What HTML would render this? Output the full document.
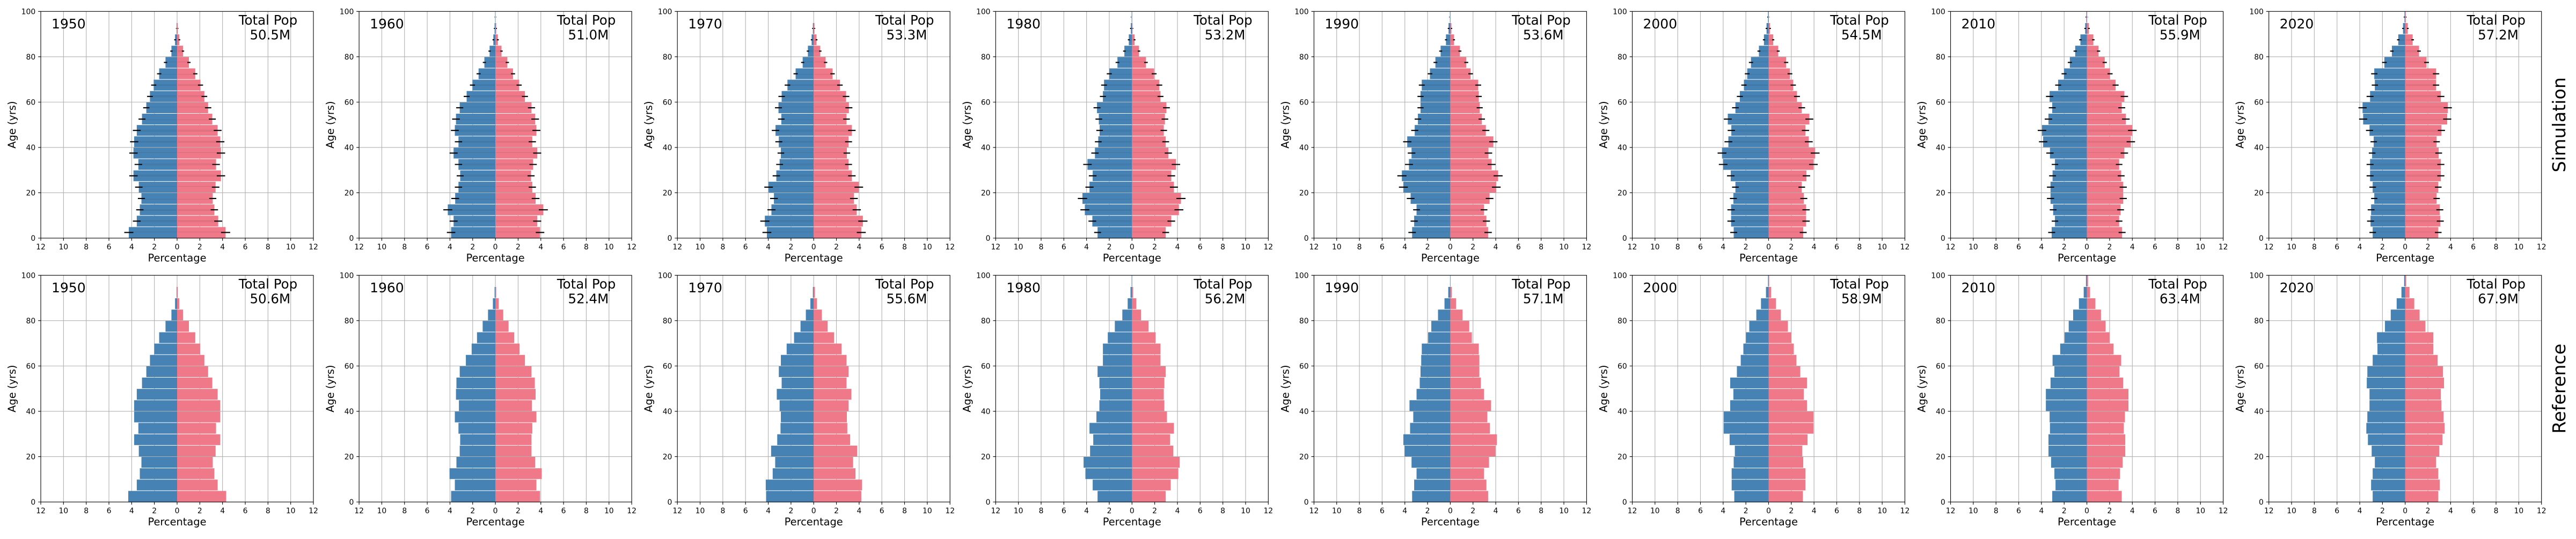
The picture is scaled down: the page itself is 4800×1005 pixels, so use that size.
<!DOCTYPE html>
<html><head><meta charset="utf-8"><style>
body{margin:0;background:#fff}
svg text{font-family:"DejaVu Sans","Liberation Sans",sans-serif;fill:#000}
.xt text{font-size:13.9px;text-anchor:middle}
.yt text{font-size:13.9px;text-anchor:end}
.xl{font-size:19.4px;text-anchor:middle}
.yr{font-size:25px}
.tp{font-size:24.5px;text-anchor:middle}
.rl{font-size:33.3px;text-anchor:middle}
</style></head><body>
<svg xmlns="http://www.w3.org/2000/svg" xmlns:xlink="http://www.w3.org/1999/xlink" width="4800" height="1000" viewBox="0 0 4800 1000">
<rect width="4800" height="1000" fill="#fff"/>
<defs>
<g id="gr" stroke="#b0b0b0" stroke-width="1.1" fill="none"><path d="M42.33 0v422.7M84.67 0v422.7M127 0v422.7M169.33 0v422.7M211.67 0v422.7M254 0v422.7M296.33 0v422.7M338.67 0v422.7M381 0v422.7M423.33 0v422.7M465.67 0v422.7M0 84.54h508M0 169.08h508M0 253.62h508M0 338.16h508"/></g>
<g id="fr" stroke="#000" stroke-width="1.1" fill="none"><rect x="0" y="0" width="508" height="422.7"/><path d="M0 422.7v4.9M42.33 422.7v4.9M84.67 422.7v4.9M127 422.7v4.9M169.33 422.7v4.9M211.67 422.7v4.9M254 422.7v4.9M296.33 422.7v4.9M338.67 422.7v4.9M381 422.7v4.9M423.33 422.7v4.9M465.67 422.7v4.9M508 422.7v4.9M-4.9 0h4.9M-4.9 84.54h4.9M-4.9 169.08h4.9M-4.9 253.62h4.9M-4.9 338.16h4.9M-4.9 422.7h4.9"/></g>
<clipPath id="sl" clipPathUnits="userSpaceOnUse"><path d="M-13 2.25h13v.5h-13zM-13 7.25h13v.5h-13zM-13 12.25h13v.5h-13zM-13 17.25h13v.5h-13zM-13 22.25h13v.5h-13zM-13 27.25h13v.5h-13zM-13 32.25h13v.5h-13zM-13 37.25h13v.5h-13zM-13 42.25h13v.5h-13zM-13 47.25h13v.5h-13zM-13 52.25h13v.5h-13zM-13 57.25h13v.5h-13zM-13 62.25h13v.5h-13zM-13 67.25h13v.5h-13zM-13 72.25h13v.5h-13zM-13 77.25h13v.5h-13zM-13 82.25h13v.5h-13zM-13 87.25h13v.5h-13zM-13 92.25h13v.5h-13zM-13 97.25h13v.5h-13z"/></clipPath>
<clipPath id="sr" clipPathUnits="userSpaceOnUse"><path d="M0 2.25h13v.5h-13zM0 7.25h13v.5h-13zM0 12.25h13v.5h-13zM0 17.25h13v.5h-13zM0 22.25h13v.5h-13zM0 27.25h13v.5h-13zM0 32.25h13v.5h-13zM0 37.25h13v.5h-13zM0 42.25h13v.5h-13zM0 47.25h13v.5h-13zM0 52.25h13v.5h-13zM0 57.25h13v.5h-13zM0 62.25h13v.5h-13zM0 67.25h13v.5h-13zM0 72.25h13v.5h-13zM0 77.25h13v.5h-13zM0 82.25h13v.5h-13zM0 87.25h13v.5h-13zM0 92.25h13v.5h-13zM0 97.25h13v.5h-13z"/></clipPath>

<path id="a0" d="M0 .12h-4.25v4.76H0m0 .24h-3.55v4.76H0m0 .24h-3.28v4.76H0m0 .24h-3.14v4.76H0m0 .24h-3.37v4.76H0m0 .24h-3.84v4.76H0m0 .24h-3.41v4.76H0m0 .24h-3.84v4.76H0m0 .24h-3.78v4.76H0m0 .24h-3.55v4.76H0m0 .24h-3.09v4.76H0m0 .24h-2.71v4.76H0m0 .24h-2.39v4.76H0m0 .24h-2.06v4.76H0m0 .24h-1.58v4.76H0m0 .24h-1.02v4.76H0m0 .24h-.5v4.76H0m0 .24h-.18v4.76H0m0 .24h-.04v4.76H0"/>
<path id="b0" d="M0 .12h4.27v4.76H0m0 .24h3.62v4.76H0m0 .24h3.28v4.76H0m0 .24h3.14v4.76H0m0 .24h3.39v4.76H0m0 .24h3.86v4.76H0m0 .24h3.43v4.76H0m0 .24h3.86v4.76H0m0 .24h3.8v4.76H0m0 .24h3.57v4.76H0m0 .24h3.1v4.76H0m0 .24h2.73v4.76H0m0 .24h2.4v4.76H0m0 .24h2.06v4.76H0m0 .24h1.6v4.76H0m0 .24h1.04v4.76H0m0 .24h.52v4.76H0m0 .24h.2v4.76H0m0 .24h.05v4.76H0"/>
<path id="c0" d="M0 .12h-4.3v4.76H0m0 .24h-3.55v4.76H0m0 .24h-3.28v4.76H0m0 .24h-3.14v4.76H0m0 .24h-3.37v4.76H0m0 .24h-3.78v4.76H0m0 .24h-3.41v4.76H0m0 .24h-3.78v4.76H0m0 .24h-3.78v4.76H0m0 .24h-3.55v4.76H0m0 .24h-3.09v4.76H0m0 .24h-2.71v4.76H0m0 .24h-2.39v4.76H0m0 .24h-2.01v4.76H0m0 .24h-1.58v4.76H0m0 .24h-1.02v4.76H0m0 .24h-.5v4.76H0m0 .24h-.18v4.76H0m0 .24h-.04v4.76H0"/>
<path id="d0" d="M0 .12h4.32v4.76H0m0 .24h3.57v4.76H0m0 .24h3.28v4.76H0m0 .24h3.14v4.76H0m0 .24h3.39v4.76H0m0 .24h3.8v4.76H0m0 .24h3.43v4.76H0m0 .24h3.8v4.76H0m0 .24h3.8v4.76H0m0 .24h3.57v4.76H0m0 .24h3.1v4.76H0m0 .24h2.73v4.76H0m0 .24h2.4v4.76H0m0 .24h2.03v4.76H0m0 .24h1.6v4.76H0m0 .24h1.04v4.76H0m0 .24h.52v4.76H0m0 .24h.2v4.76H0m0 .24h.05v4.76H0"/>

<path id="a1" d="M0 .12h-3.9v4.76H0m0 .24h-3.68v4.76H0m0 .24h-4.19v4.76H0m0 .24h-3.54v4.76H0m0 .24h-3.25v4.76H0m0 .24h-3.1v4.76H0m0 .24h-3.25v4.76H0m0 .24h-3.68v4.76H0m0 .24h-3.25v4.76H0m0 .24h-3.57v4.76H0m0 .24h-3.47v4.76H0m0 .24h-3.14v4.76H0m0 .24h-2.53v4.76H0m0 .24h-2.02v4.76H0m0 .24h-1.48v4.76H0m0 .24h-.97v4.76H0m0 .24h-.51v4.76H0m0 .24h-.18v4.76H0m0 .24h-.07v4.76H0m0 .24h-.02v4.76H0"/>
<path id="b1" d="M0 .12h3.93v4.76H0m0 .24h3.68v4.76H0m0 .24h4.22v4.76H0m0 .24h3.54v4.76H0m0 .24h3.25v4.76H0m0 .24h3.14v4.76H0m0 .24h3.32v4.76H0m0 .24h3.68v4.76H0m0 .24h3.25v4.76H0m0 .24h3.61v4.76H0m0 .24h3.5v4.76H0m0 .24h3.18v4.76H0m0 .24h2.6v4.76H0m0 .24h2.09v4.76H0m0 .24h1.55v4.76H0m0 .24h1.05v4.76H0m0 .24h.54v4.76H0m0 .24h.22v4.76H0m0 .24h.07v4.76H0m0 .24h.02v4.76H0"/>
<path id="c1" d="M0 .12h-3.9v4.76H0m0 .24h-3.57v4.76H0m0 .24h-4.04v4.76H0m0 .24h-3.43v4.76H0m0 .24h-3.14v4.76H0m0 .24h-3.1v4.76H0m0 .24h-3.25v4.76H0m0 .24h-3.57v4.76H0m0 .24h-3.21v4.76H0m0 .24h-3.47v4.76H0m0 .24h-3.43v4.76H0m0 .24h-3.14v4.76H0m0 .24h-2.6v4.76H0m0 .24h-2.09v4.76H0m0 .24h-1.62v4.76H0m0 .24h-1.12v4.76H0m0 .24h-.65v4.76H0m0 .24h-.22v4.76H0m0 .24h-.07v4.76H0"/>
<path id="d1" d="M0 .12h3.93v4.76H0m0 .24h3.61v4.76H0m0 .24h4.08v4.76H0m0 .24h3.5v4.76H0m0 .24h3.18v4.76H0m0 .24h3.18v4.76H0m0 .24h3.25v4.76H0m0 .24h3.61v4.76H0m0 .24h3.21v4.76H0m0 .24h3.54v4.76H0m0 .24h3.47v4.76H0m0 .24h3.18v4.76H0m0 .24h2.6v4.76H0m0 .24h2.13v4.76H0m0 .24h1.66v4.76H0m0 .24h1.16v4.76H0m0 .24h.69v4.76H0m0 .24h.29v4.76H0m0 .24h.07v4.76H0"/>

<path id="a2" d="M0 .12h-4.12v4.76H0m0 .24h-4.3v4.76H0m0 .24h-3.72v4.76H0m0 .24h-3.5v4.76H0m0 .24h-3.97v4.76H0m0 .24h-3.29v4.76H0m0 .24h-3v4.76H0m0 .24h-2.89v4.76H0m0 .24h-3.07v4.76H0m0 .24h-3.36v4.76H0m0 .24h-2.85v4.76H0m0 .24h-3.1v4.76H0m0 .24h-2.82v4.76H0m0 .24h-2.31v4.76H0m0 .24h-1.59v4.76H0m0 .24h-.97v4.76H0m0 .24h-.51v4.76H0m0 .24h-.18v4.76H0m0 .24h-.07v4.76H0"/>
<path id="b2" d="M0 .12h4.19v4.76H0m0 .24h4.33v4.76H0m0 .24h3.79v4.76H0m0 .24h3.54v4.76H0m0 .24h3.97v4.76H0m0 .24h3.36v4.76H0m0 .24h3.07v4.76H0m0 .24h2.92v4.76H0m0 .24h3.07v4.76H0m0 .24h3.36v4.76H0m0 .24h2.89v4.76H0m0 .24h3.1v4.76H0m0 .24h2.85v4.76H0m0 .24h2.31v4.76H0m0 .24h1.66v4.76H0m0 .24h1.05v4.76H0m0 .24h.58v4.76H0m0 .24h.25v4.76H0m0 .24h.07v4.76H0"/>
<path id="c2" d="M0 .12h-4.19v4.76H0m0 .24h-4.22v4.76H0m0 .24h-3.61v4.76H0m0 .24h-3.39v4.76H0m0 .24h-3.75v4.76H0m0 .24h-3.21v4.76H0m0 .24h-2.92v4.76H0m0 .24h-2.89v4.76H0m0 .24h-3v4.76H0m0 .24h-3.25v4.76H0m0 .24h-2.82v4.76H0m0 .24h-3.07v4.76H0m0 .24h-2.89v4.76H0m0 .24h-2.38v4.76H0m0 .24h-1.73v4.76H0m0 .24h-1.16v4.76H0m0 .24h-.69v4.76H0m0 .24h-.29v4.76H0m0 .24h-.07v4.76H0"/>
<path id="d2" d="M0 .12h4.19v4.76H0m0 .24h4.26v4.76H0m0 .24h3.68v4.76H0m0 .24h3.47v4.76H0m0 .24h3.83v4.76H0m0 .24h3.21v4.76H0m0 .24h2.96v4.76H0m0 .24h2.92v4.76H0m0 .24h3.07v4.76H0m0 .24h3.32v4.76H0m0 .24h2.89v4.76H0m0 .24h3.07v4.76H0m0 .24h2.89v4.76H0m0 .24h2.46v4.76H0m0 .24h1.8v4.76H0m0 .24h1.23v4.76H0m0 .24h.72v4.76H0m0 .24h.29v4.76H0m0 .24h.11v4.76H0"/>

<path id="a3" d="M0 .12h-3.03v4.76H0m0 .24h-3.49v4.76H0m0 .24h-4.15v4.76H0m0 .24h-4.36v4.76H0m0 .24h-3.74v4.76H0m0 .24h-3.46v4.76H0m0 .24h-3.92v4.76H0m0 .24h-3.26v4.76H0m0 .24h-2.97v4.76H0m0 .24h-2.85v4.76H0m0 .24h-2.92v4.76H0m0 .24h-3.08v4.76H0m0 .24h-2.56v4.76H0m0 .24h-2.46v4.76H0m0 .24h-2v4.76H0m0 .24h-1.28v4.76H0m0 .24h-.67v4.76H0m0 .24h-.28v4.76H0m0 .24h-.1v4.76H0m0 .24h-.03v4.76H0"/>
<path id="b3" d="M0 .12h2.97v4.76H0m0 .24h3.46v4.76H0m0 .24h4.13v4.76H0m0 .24h4.31v4.76H0m0 .24h3.69v4.76H0m0 .24h3.46v4.76H0m0 .24h3.87v4.76H0m0 .24h3.2v4.76H0m0 .24h2.97v4.76H0m0 .24h2.8v4.76H0m0 .24h2.9v4.76H0m0 .24h3.03v4.76H0m0 .24h2.51v4.76H0m0 .24h2.41v4.76H0m0 .24h1.95v4.76H0m0 .24h1.23v4.76H0m0 .24h.62v4.76H0m0 .24h.23v4.76H0m0 .24h.05v4.76H0"/>
<path id="c3" d="M0 .12h-3.03v4.76H0m0 .24h-3.46v4.76H0m0 .24h-4.1v4.76H0m0 .24h-4.26v4.76H0m0 .24h-3.69v4.76H0m0 .24h-3.41v4.76H0m0 .24h-3.74v4.76H0m0 .24h-3.13v4.76H0m0 .24h-2.87v4.76H0m0 .24h-2.8v4.76H0m0 .24h-2.87v4.76H0m0 .24h-3.03v4.76H0m0 .24h-2.56v4.76H0m0 .24h-2.56v4.76H0m0 .24h-2.13v4.76H0m0 .24h-1.51v4.76H0m0 .24h-.85v4.76H0m0 .24h-.38v4.76H0m0 .24h-.13v4.76H0m0 .24h-.03v4.76H0"/>
<path id="d3" d="M0 .12h2.97v4.76H0m0 .24h3.41v4.76H0m0 .24h4.08v4.76H0m0 .24h4.2v4.76H0m0 .24h3.64v4.76H0m0 .24h3.36v4.76H0m0 .24h3.69v4.76H0m0 .24h3.08v4.76H0m0 .24h2.85v4.76H0m0 .24h2.8v4.76H0m0 .24h2.85v4.76H0m0 .24h2.97v4.76H0m0 .24h2.51v4.76H0m0 .24h2.51v4.76H0m0 .24h2.08v4.76H0m0 .24h1.46v4.76H0m0 .24h.8v4.76H0m0 .24h.38v4.76H0m0 .24h.1v4.76H0"/>

<path id="a4" d="M0 .12h-3.36v4.76H0m0 .24h-3.18v4.76H0m0 .24h-2.97v4.76H0m0 .24h-3.49v4.76H0m0 .24h-4.13v4.76H0m0 .24h-4.26v4.76H0m0 .24h-3.64v4.76H0m0 .24h-3.41v4.76H0m0 .24h-3.79v4.76H0m0 .24h-3.13v4.76H0m0 .24h-2.85v4.76H0m0 .24h-2.62v4.76H0m0 .24h-2.62v4.76H0m0 .24h-2.51v4.76H0m0 .24h-1.79v4.76H0m0 .24h-1.31v4.76H0m0 .24h-.85v4.76H0m0 .24h-.38v4.76H0m0 .24h-.15v4.76H0m0 .24h-.03v4.76H0"/>
<path id="b4" d="M0 .12h3.33v4.76H0m0 .24h3.18v4.76H0m0 .24h2.97v4.76H0m0 .24h3.46v4.76H0m0 .24h4.05v4.76H0m0 .24h4.21v4.76H0m0 .24h3.64v4.76H0m0 .24h3.36v4.76H0m0 .24h3.79v4.76H0m0 .24h3.13v4.76H0m0 .24h2.77v4.76H0m0 .24h2.59v4.76H0m0 .24h2.51v4.76H0m0 .24h2.46v4.76H0m0 .24h1.79v4.76H0m0 .24h1.41v4.76H0m0 .24h.85v4.76H0m0 .24h.33v4.76H0m0 .24h.1v4.76H0"/>
<path id="c4" d="M0 .12h-3.36v4.76H0m0 .24h-3.18v4.76H0m0 .24h-2.97v4.76H0m0 .24h-3.41v4.76H0m0 .24h-4.03v4.76H0m0 .24h-4.13v4.76H0m0 .24h-3.54v4.76H0m0 .24h-3.26v4.76H0m0 .24h-3.59v4.76H0m0 .24h-2.97v4.76H0m0 .24h-2.69v4.76H0m0 .24h-2.62v4.76H0m0 .24h-2.56v4.76H0m0 .24h-2.51v4.76H0m0 .24h-1.95v4.76H0m0 .24h-1.67v4.76H0m0 .24h-1.08v4.76H0m0 .24h-.51v4.76H0m0 .24h-.18v4.76H0m0 .24h-.02v4.76H0"/>
<path id="d4" d="M0 .12h3.33v4.76H0m0 .24h3.18v4.76H0m0 .24h2.97v4.76H0m0 .24h3.41v4.76H0m0 .24h3.97v4.76H0m0 .24h4.1v4.76H0m0 .24h3.49v4.76H0m0 .24h3.26v4.76H0m0 .24h3.59v4.76H0m0 .24h2.97v4.76H0m0 .24h2.69v4.76H0m0 .24h2.56v4.76H0m0 .24h2.56v4.76H0m0 .24h2.51v4.76H0m0 .24h1.9v4.76H0m0 .24h1.67v4.76H0m0 .24h1.08v4.76H0m0 .24h.51v4.76H0m0 .24h.13v4.76H0"/>

<path id="a5" d="M0 .12h-3.07v4.76H0m0 .24h-3.3v4.76H0m0 .24h-3.3v4.76H0m0 .24h-3.1v4.76H0m0 .24h-2.92v4.76H0m0 .24h-3.33v4.76H0m0 .24h-4v4.76H0m0 .24h-4.1v4.76H0m0 .24h-3.54v4.76H0m0 .24h-3.28v4.76H0m0 .24h-3.59v4.76H0m0 .24h-2.92v4.76H0m0 .24h-2.53v4.76H0m0 .24h-2.17v4.76H0m0 .24h-1.88v4.76H0m0 .24h-1.55v4.76H0m0 .24h-.85v4.76H0m0 .24h-.41v4.76H0m0 .24h-.18v4.76H0m0 .24h-.05v4.76H0"/>
<path id="b5" d="M0 .12h3.05v4.76H0m0 .24h3.3v4.76H0m0 .24h3.3v4.76H0m0 .24h3.1v4.76H0m0 .24h2.92v4.76H0m0 .24h3.33v4.76H0m0 .24h3.95v4.76H0m0 .24h4.1v4.76H0m0 .24h3.54v4.76H0m0 .24h3.25v4.76H0m0 .24h3.59v4.76H0m0 .24h2.92v4.76H0m0 .24h2.5v4.76H0m0 .24h2.17v4.76H0m0 .24h1.88v4.76H0m0 .24h1.55v4.76H0m0 .24h.85v4.76H0m0 .24h.41v4.76H0m0 .24h.13v4.76H0m0 .24h.02v4.76H0"/>
<path id="c5" d="M0 .12h-3.02v4.76H0m0 .24h-3.25v4.76H0m0 .24h-3.25v4.76H0m0 .24h-3.07v4.76H0m0 .24h-2.97v4.76H0m0 .24h-3.43v4.76H0m0 .24h-3.95v4.76H0m0 .24h-3.95v4.76H0m0 .24h-3.38v4.76H0m0 .24h-3.1v4.76H0m0 .24h-3.38v4.76H0m0 .24h-2.79v4.76H0m0 .24h-2.45v4.76H0m0 .24h-2.22v4.76H0m0 .24h-1.99v4.76H0m0 .24h-1.7v4.76H0m0 .24h-1.08v4.76H0m0 .24h-.67v4.76H0m0 .24h-.23v4.76H0m0 .24h-.05v4.76H0"/>
<path id="d5" d="M0 .12h3.02v4.76H0m0 .24h3.25v4.76H0m0 .24h3.25v4.76H0m0 .24h3.05v4.76H0m0 .24h2.97v4.76H0m0 .24h3.43v4.76H0m0 .24h3.95v4.76H0m0 .24h3.95v4.76H0m0 .24h3.38v4.76H0m0 .24h3.1v4.76H0m0 .24h3.38v4.76H0m0 .24h2.79v4.76H0m0 .24h2.45v4.76H0m0 .24h2.22v4.76H0m0 .24h1.99v4.76H0m0 .24h1.7v4.76H0m0 .24h1.08v4.76H0m0 .24h.65v4.76H0m0 .24h.23v4.76H0m0 .24h.05v4.76H0"/>

<path id="a6" d="M0 .12h-3.1v4.76H0m0 .24h-2.81v4.76H0m0 .24h-2.97v4.76H0m0 .24h-3.2v4.76H0m0 .24h-3.2v4.76H0m0 .24h-3.02v4.76H0m0 .24h-2.81v4.76H0m0 .24h-3.25v4.76H0m0 .24h-3.85v4.76H0m0 .24h-3.95v4.76H0m0 .24h-3.38v4.76H0m0 .24h-3.05v4.76H0m0 .24h-3.28v4.76H0m0 .24h-2.53v4.76H0m0 .24h-2.01v4.76H0m0 .24h-1.5v4.76H0m0 .24h-1.03v4.76H0m0 .24h-.57v4.76H0m0 .24h-.15v4.76H0m0 .24h-.05v4.76H0"/>
<path id="b6" d="M0 .12h3.1v4.76H0m0 .24h2.84v4.76H0m0 .24h2.97v4.76H0m0 .24h3.2v4.76H0m0 .24h3.2v4.76H0m0 .24h3.02v4.76H0m0 .24h2.84v4.76H0m0 .24h3.3v4.76H0m0 .24h3.87v4.76H0m0 .24h4v4.76H0m0 .24h3.43v4.76H0m0 .24h3.07v4.76H0m0 .24h3.3v4.76H0m0 .24h2.53v4.76H0m0 .24h2.04v4.76H0m0 .24h1.57v4.76H0m0 .24h1.03v4.76H0m0 .24h.57v4.76H0m0 .24h.18v4.76H0m0 .24h.02v4.76H0"/>
<path id="c6" d="M0 .12h-3.05v4.76H0m0 .24h-2.76v4.76H0m0 .24h-2.86v4.76H0m0 .24h-3.15v4.76H0m0 .24h-3.38v4.76H0m0 .24h-3.38v4.76H0m0 .24h-3.25v4.76H0m0 .24h-3.28v4.76H0m0 .24h-3.61v4.76H0m0 .24h-3.61v4.76H0m0 .24h-3.2v4.76H0m0 .24h-2.86v4.76H0m0 .24h-3.02v4.76H0m0 .24h-2.35v4.76H0m0 .24h-1.96v4.76H0m0 .24h-1.6v4.76H0m0 .24h-1.21v4.76H0m0 .24h-.7v4.76H0m0 .24h-.28v4.76H0m0 .24h-.08v4.76H0"/>
<path id="d6" d="M0 .12h3.07v4.76H0m0 .24h2.79v4.76H0m0 .24h2.92v4.76H0m0 .24h3.15v4.76H0m0 .24h3.38v4.76H0m0 .24h3.38v4.76H0m0 .24h3.25v4.76H0m0 .24h3.35v4.76H0m0 .24h3.66v4.76H0m0 .24h3.66v4.76H0m0 .24h3.2v4.76H0m0 .24h2.87v4.76H0m0 .24h3.02v4.76H0m0 .24h2.35v4.76H0m0 .24h1.99v4.76H0m0 .24h1.65v4.76H0m0 .24h1.24v4.76H0m0 .24h.75v4.76H0m0 .24h.28v4.76H0m0 .24h.1v4.76H0"/>

<path id="a7" d="M0 .12h-2.86v4.76H0m0 .24h-3.05v4.76H0m0 .24h-3v4.76H0m0 .24h-2.72v4.76H0m0 .24h-2.86v4.76H0m0 .24h-3.09v4.76H0m0 .24h-3.09v4.76H0m0 .24h-2.91v4.76H0m0 .24h-2.77v4.76H0m0 .24h-3.14v4.76H0m0 .24h-3.7v4.76H0m0 .24h-3.75v4.76H0m0 .24h-3.09v4.76H0m0 .24h-2.67v4.76H0m0 .24h-2.72v4.76H0m0 .24h-1.83v4.76H0m0 .24h-1.17v4.76H0m0 .24h-.61v4.76H0m0 .24h-.19v4.76H0m0 .24h-.06v4.76H0"/>
<path id="b7" d="M0 .12h2.91v4.76H0m0 .24h3.09v4.76H0m0 .24h3.05v4.76H0m0 .24h2.77v4.76H0m0 .24h2.91v4.76H0m0 .24h3.14v4.76H0m0 .24h3.14v4.76H0m0 .24h2.95v4.76H0m0 .24h2.77v4.76H0m0 .24h3.19v4.76H0m0 .24h3.7v4.76H0m0 .24h3.75v4.76H0m0 .24h3.14v4.76H0m0 .24h2.72v4.76H0m0 .24h2.72v4.76H0m0 .24h1.88v4.76H0m0 .24h1.22v4.76H0m0 .24h.66v4.76H0m0 .24h.23v4.76H0m0 .24h.05v4.76H0"/>
<path id="c7" d="M0 .12h-2.86v4.76H0m0 .24h-3v4.76H0m0 .24h-2.86v4.76H0m0 .24h-2.67v4.76H0m0 .24h-2.95v4.76H0m0 .24h-3.28v4.76H0m0 .24h-3.42v4.76H0m0 .24h-3.33v4.76H0m0 .24h-3.14v4.76H0m0 .24h-3.14v4.76H0m0 .24h-3.38v4.76H0m0 .24h-3.33v4.76H0m0 .24h-2.86v4.76H0m0 .24h-2.44v4.76H0m0 .24h-2.48v4.76H0m0 .24h-1.78v4.76H0m0 .24h-1.27v4.76H0m0 .24h-.75v4.76H0m0 .24h-.33v4.76H0m0 .24h-.09v4.76H0"/>
<path id="d7" d="M0 .12h2.91v4.76H0m0 .24h3.05v4.76H0m0 .24h2.91v4.76H0m0 .24h2.72v4.76H0m0 .24h3v4.76H0m0 .24h3.28v4.76H0m0 .24h3.47v4.76H0m0 .24h3.38v4.76H0m0 .24h3.19v4.76H0m0 .24h3.14v4.76H0m0 .24h3.42v4.76H0m0 .24h3.33v4.76H0m0 .24h2.86v4.76H0m0 .24h2.48v4.76H0m0 .24h2.48v4.76H0m0 .24h1.78v4.76H0m0 .24h1.27v4.76H0m0 .24h.8v4.76H0m0 .24h.38v4.76H0m0 .24h.09v4.76H0"/>
</defs>

<!-- grids -->
<use href="#gr" x="76" y="21.3"/><use href="#gr" x="669.1" y="21.3"/><use href="#gr" x="1262.2" y="21.3"/><use href="#gr" x="1855.3" y="21.3"/><use href="#gr" x="2448.4" y="21.3"/><use href="#gr" x="3041.5" y="21.3"/><use href="#gr" x="3634.6" y="21.3"/><use href="#gr" x="4227.7" y="21.3"/>
<use href="#gr" x="76" y="513.3"/><use href="#gr" x="669.1" y="513.3"/><use href="#gr" x="1262.2" y="513.3"/><use href="#gr" x="1855.3" y="513.3"/><use href="#gr" x="2448.4" y="513.3"/><use href="#gr" x="3041.5" y="513.3"/><use href="#gr" x="3634.6" y="513.3"/><use href="#gr" x="4227.7" y="513.3"/>

<!-- simulation row bars + error bars -->
<g transform="translate(330 444) scale(21.1667 -4.227)"><use href="#a0" fill="#4682b4"/><use href="#b0" fill="#ef7889"/><g clip-path="url(#sl)"><use href="#a0" transform="translate(-.06 0) scale(1.08 1)"/><use href="#a0" fill="#4682b4" transform="translate(.06 0) scale(.92 1)"/></g><g clip-path="url(#sr)"><use href="#b0" transform="translate(.06 0) scale(1.08 1)"/><use href="#b0" fill="#ef7889" transform="translate(-.06 0) scale(.92 1)"/></g></g>
<g transform="translate(923.1 444) scale(21.1667 -4.227)"><use href="#a1" fill="#4682b4"/><use href="#b1" fill="#ef7889"/><g clip-path="url(#sl)"><use href="#a1" transform="translate(-.06 0) scale(1.08 1)"/><use href="#a1" fill="#4682b4" transform="translate(.06 0) scale(.92 1)"/></g><g clip-path="url(#sr)"><use href="#b1" transform="translate(.06 0) scale(1.08 1)"/><use href="#b1" fill="#ef7889" transform="translate(-.06 0) scale(.92 1)"/></g></g>
<g transform="translate(1516.2 444) scale(21.1667 -4.227)"><use href="#a2" fill="#4682b4"/><use href="#b2" fill="#ef7889"/><g clip-path="url(#sl)"><use href="#a2" transform="translate(-.06 0) scale(1.08 1)"/><use href="#a2" fill="#4682b4" transform="translate(.06 0) scale(.92 1)"/></g><g clip-path="url(#sr)"><use href="#b2" transform="translate(.06 0) scale(1.08 1)"/><use href="#b2" fill="#ef7889" transform="translate(-.06 0) scale(.92 1)"/></g></g>
<g transform="translate(2109.3 444) scale(21.1667 -4.227)"><use href="#a3" fill="#4682b4"/><use href="#b3" fill="#ef7889"/><g clip-path="url(#sl)"><use href="#a3" transform="translate(-.06 0) scale(1.08 1)"/><use href="#a3" fill="#4682b4" transform="translate(.06 0) scale(.92 1)"/></g><g clip-path="url(#sr)"><use href="#b3" transform="translate(.06 0) scale(1.08 1)"/><use href="#b3" fill="#ef7889" transform="translate(-.06 0) scale(.92 1)"/></g></g>
<g transform="translate(2702.4 444) scale(21.1667 -4.227)"><use href="#a4" fill="#4682b4"/><use href="#b4" fill="#ef7889"/><g clip-path="url(#sl)"><use href="#a4" transform="translate(-.06 0) scale(1.08 1)"/><use href="#a4" fill="#4682b4" transform="translate(.06 0) scale(.92 1)"/></g><g clip-path="url(#sr)"><use href="#b4" transform="translate(.06 0) scale(1.08 1)"/><use href="#b4" fill="#ef7889" transform="translate(-.06 0) scale(.92 1)"/></g></g>
<g transform="translate(3295.5 444) scale(21.1667 -4.227)"><use href="#a5" fill="#4682b4"/><use href="#b5" fill="#ef7889"/><g clip-path="url(#sl)"><use href="#a5" transform="translate(-.06 0) scale(1.08 1)"/><use href="#a5" fill="#4682b4" transform="translate(.06 0) scale(.92 1)"/></g><g clip-path="url(#sr)"><use href="#b5" transform="translate(.06 0) scale(1.08 1)"/><use href="#b5" fill="#ef7889" transform="translate(-.06 0) scale(.92 1)"/></g></g>
<g transform="translate(3888.6 444) scale(21.1667 -4.227)"><use href="#a6" fill="#4682b4"/><use href="#b6" fill="#ef7889"/><g clip-path="url(#sl)"><use href="#a6" transform="translate(-.06 0) scale(1.08 1)"/><use href="#a6" fill="#4682b4" transform="translate(.06 0) scale(.92 1)"/></g><g clip-path="url(#sr)"><use href="#b6" transform="translate(.06 0) scale(1.08 1)"/><use href="#b6" fill="#ef7889" transform="translate(-.06 0) scale(.92 1)"/></g></g>
<g transform="translate(4481.7 444) scale(21.1667 -4.227)"><use href="#a7" fill="#4682b4"/><use href="#b7" fill="#ef7889"/><g clip-path="url(#sl)"><use href="#a7" transform="translate(-.06 0) scale(1.08 1)"/><use href="#a7" fill="#4682b4" transform="translate(.06 0) scale(.92 1)"/></g><g clip-path="url(#sr)"><use href="#b7" transform="translate(.06 0) scale(1.08 1)"/><use href="#b7" fill="#ef7889" transform="translate(-.06 0) scale(.92 1)"/></g></g>

<!-- reference row bars -->
<g transform="translate(330 936) scale(21.1667 -4.227)"><use href="#c0" fill="#4682b4"/><use href="#d0" fill="#ef7889"/></g>
<g transform="translate(923.1 936) scale(21.1667 -4.227)"><use href="#c1" fill="#4682b4"/><use href="#d1" fill="#ef7889"/></g>
<g transform="translate(1516.2 936) scale(21.1667 -4.227)"><use href="#c2" fill="#4682b4"/><use href="#d2" fill="#ef7889"/></g>
<g transform="translate(2109.3 936) scale(21.1667 -4.227)"><use href="#c3" fill="#4682b4"/><use href="#d3" fill="#ef7889"/></g>
<g transform="translate(2702.4 936) scale(21.1667 -4.227)"><use href="#c4" fill="#4682b4"/><use href="#d4" fill="#ef7889"/></g>
<g transform="translate(3295.5 936) scale(21.1667 -4.227)"><use href="#c5" fill="#4682b4"/><use href="#d5" fill="#ef7889"/></g>
<g transform="translate(3888.6 936) scale(21.1667 -4.227)"><use href="#c6" fill="#4682b4"/><use href="#d6" fill="#ef7889"/></g>
<g transform="translate(4481.7 936) scale(21.1667 -4.227)"><use href="#c7" fill="#4682b4"/><use href="#d7" fill="#ef7889"/></g>

<!-- frames -->
<use href="#fr" x="76" y="21.3"/><use href="#fr" x="669.1" y="21.3"/><use href="#fr" x="1262.2" y="21.3"/><use href="#fr" x="1855.3" y="21.3"/><use href="#fr" x="2448.4" y="21.3"/><use href="#fr" x="3041.5" y="21.3"/><use href="#fr" x="3634.6" y="21.3"/><use href="#fr" x="4227.7" y="21.3"/>
<use href="#fr" x="76" y="513.3"/><use href="#fr" x="669.1" y="513.3"/><use href="#fr" x="1262.2" y="513.3"/><use href="#fr" x="1855.3" y="513.3"/><use href="#fr" x="2448.4" y="513.3"/><use href="#fr" x="3041.5" y="513.3"/><use href="#fr" x="3634.6" y="513.3"/><use href="#fr" x="4227.7" y="513.3"/>

<!-- x tick labels -->
<g class="xt" transform="translate(76 465)"><text>12</text><text x="42.3">10</text><text x="84.7">8</text><text x="127">6</text><text x="169.3">4</text><text x="211.7">2</text><text x="254">0</text><text x="296.3">2</text><text x="338.7">4</text><text x="381">6</text><text x="423.3">8</text><text x="465.7">10</text><text x="508">12</text></g>
<g class="xt" transform="translate(669.1 465)"><text>12</text><text x="42.3">10</text><text x="84.7">8</text><text x="127">6</text><text x="169.3">4</text><text x="211.7">2</text><text x="254">0</text><text x="296.3">2</text><text x="338.7">4</text><text x="381">6</text><text x="423.3">8</text><text x="465.7">10</text><text x="508">12</text></g>
<g class="xt" transform="translate(1262.2 465)"><text>12</text><text x="42.3">10</text><text x="84.7">8</text><text x="127">6</text><text x="169.3">4</text><text x="211.7">2</text><text x="254">0</text><text x="296.3">2</text><text x="338.7">4</text><text x="381">6</text><text x="423.3">8</text><text x="465.7">10</text><text x="508">12</text></g>
<g class="xt" transform="translate(1855.3 465)"><text>12</text><text x="42.3">10</text><text x="84.7">8</text><text x="127">6</text><text x="169.3">4</text><text x="211.7">2</text><text x="254">0</text><text x="296.3">2</text><text x="338.7">4</text><text x="381">6</text><text x="423.3">8</text><text x="465.7">10</text><text x="508">12</text></g>
<g class="xt" transform="translate(2448.4 465)"><text>12</text><text x="42.3">10</text><text x="84.7">8</text><text x="127">6</text><text x="169.3">4</text><text x="211.7">2</text><text x="254">0</text><text x="296.3">2</text><text x="338.7">4</text><text x="381">6</text><text x="423.3">8</text><text x="465.7">10</text><text x="508">12</text></g>
<g class="xt" transform="translate(3041.5 465)"><text>12</text><text x="42.3">10</text><text x="84.7">8</text><text x="127">6</text><text x="169.3">4</text><text x="211.7">2</text><text x="254">0</text><text x="296.3">2</text><text x="338.7">4</text><text x="381">6</text><text x="423.3">8</text><text x="465.7">10</text><text x="508">12</text></g>
<g class="xt" transform="translate(3634.6 465)"><text>12</text><text x="42.3">10</text><text x="84.7">8</text><text x="127">6</text><text x="169.3">4</text><text x="211.7">2</text><text x="254">0</text><text x="296.3">2</text><text x="338.7">4</text><text x="381">6</text><text x="423.3">8</text><text x="465.7">10</text><text x="508">12</text></g>
<g class="xt" transform="translate(4227.7 465)"><text>12</text><text x="42.3">10</text><text x="84.7">8</text><text x="127">6</text><text x="169.3">4</text><text x="211.7">2</text><text x="254">0</text><text x="296.3">2</text><text x="338.7">4</text><text x="381">6</text><text x="423.3">8</text><text x="465.7">10</text><text x="508">12</text></g>
<g class="xt" transform="translate(76 957)"><text>12</text><text x="42.3">10</text><text x="84.7">8</text><text x="127">6</text><text x="169.3">4</text><text x="211.7">2</text><text x="254">0</text><text x="296.3">2</text><text x="338.7">4</text><text x="381">6</text><text x="423.3">8</text><text x="465.7">10</text><text x="508">12</text></g>
<g class="xt" transform="translate(669.1 957)"><text>12</text><text x="42.3">10</text><text x="84.7">8</text><text x="127">6</text><text x="169.3">4</text><text x="211.7">2</text><text x="254">0</text><text x="296.3">2</text><text x="338.7">4</text><text x="381">6</text><text x="423.3">8</text><text x="465.7">10</text><text x="508">12</text></g>
<g class="xt" transform="translate(1262.2 957)"><text>12</text><text x="42.3">10</text><text x="84.7">8</text><text x="127">6</text><text x="169.3">4</text><text x="211.7">2</text><text x="254">0</text><text x="296.3">2</text><text x="338.7">4</text><text x="381">6</text><text x="423.3">8</text><text x="465.7">10</text><text x="508">12</text></g>
<g class="xt" transform="translate(1855.3 957)"><text>12</text><text x="42.3">10</text><text x="84.7">8</text><text x="127">6</text><text x="169.3">4</text><text x="211.7">2</text><text x="254">0</text><text x="296.3">2</text><text x="338.7">4</text><text x="381">6</text><text x="423.3">8</text><text x="465.7">10</text><text x="508">12</text></g>
<g class="xt" transform="translate(2448.4 957)"><text>12</text><text x="42.3">10</text><text x="84.7">8</text><text x="127">6</text><text x="169.3">4</text><text x="211.7">2</text><text x="254">0</text><text x="296.3">2</text><text x="338.7">4</text><text x="381">6</text><text x="423.3">8</text><text x="465.7">10</text><text x="508">12</text></g>
<g class="xt" transform="translate(3041.5 957)"><text>12</text><text x="42.3">10</text><text x="84.7">8</text><text x="127">6</text><text x="169.3">4</text><text x="211.7">2</text><text x="254">0</text><text x="296.3">2</text><text x="338.7">4</text><text x="381">6</text><text x="423.3">8</text><text x="465.7">10</text><text x="508">12</text></g>
<g class="xt" transform="translate(3634.6 957)"><text>12</text><text x="42.3">10</text><text x="84.7">8</text><text x="127">6</text><text x="169.3">4</text><text x="211.7">2</text><text x="254">0</text><text x="296.3">2</text><text x="338.7">4</text><text x="381">6</text><text x="423.3">8</text><text x="465.7">10</text><text x="508">12</text></g>
<g class="xt" transform="translate(4227.7 957)"><text>12</text><text x="42.3">10</text><text x="84.7">8</text><text x="127">6</text><text x="169.3">4</text><text x="211.7">2</text><text x="254">0</text><text x="296.3">2</text><text x="338.7">4</text><text x="381">6</text><text x="423.3">8</text><text x="465.7">10</text><text x="508">12</text></g>

<!-- y tick labels -->
<g class="yt" transform="translate(66.2 21.3)"><text y="427.8">0</text><text y="343.2">20</text><text y="258.7">40</text><text y="174.1">60</text><text y="89.6">80</text><text y="5.1">100</text></g>
<g class="yt" transform="translate(659.3 21.3)"><text y="427.8">0</text><text y="343.2">20</text><text y="258.7">40</text><text y="174.1">60</text><text y="89.6">80</text><text y="5.1">100</text></g>
<g class="yt" transform="translate(1252.4 21.3)"><text y="427.8">0</text><text y="343.2">20</text><text y="258.7">40</text><text y="174.1">60</text><text y="89.6">80</text><text y="5.1">100</text></g>
<g class="yt" transform="translate(1845.5 21.3)"><text y="427.8">0</text><text y="343.2">20</text><text y="258.7">40</text><text y="174.1">60</text><text y="89.6">80</text><text y="5.1">100</text></g>
<g class="yt" transform="translate(2438.6 21.3)"><text y="427.8">0</text><text y="343.2">20</text><text y="258.7">40</text><text y="174.1">60</text><text y="89.6">80</text><text y="5.1">100</text></g>
<g class="yt" transform="translate(3031.7 21.3)"><text y="427.8">0</text><text y="343.2">20</text><text y="258.7">40</text><text y="174.1">60</text><text y="89.6">80</text><text y="5.1">100</text></g>
<g class="yt" transform="translate(3624.8 21.3)"><text y="427.8">0</text><text y="343.2">20</text><text y="258.7">40</text><text y="174.1">60</text><text y="89.6">80</text><text y="5.1">100</text></g>
<g class="yt" transform="translate(4217.9 21.3)"><text y="427.8">0</text><text y="343.2">20</text><text y="258.7">40</text><text y="174.1">60</text><text y="89.6">80</text><text y="5.1">100</text></g>
<g class="yt" transform="translate(66.2 513.3)"><text y="427.8">0</text><text y="343.2">20</text><text y="258.7">40</text><text y="174.1">60</text><text y="89.6">80</text><text y="5.1">100</text></g>
<g class="yt" transform="translate(659.3 513.3)"><text y="427.8">0</text><text y="343.2">20</text><text y="258.7">40</text><text y="174.1">60</text><text y="89.6">80</text><text y="5.1">100</text></g>
<g class="yt" transform="translate(1252.4 513.3)"><text y="427.8">0</text><text y="343.2">20</text><text y="258.7">40</text><text y="174.1">60</text><text y="89.6">80</text><text y="5.1">100</text></g>
<g class="yt" transform="translate(1845.5 513.3)"><text y="427.8">0</text><text y="343.2">20</text><text y="258.7">40</text><text y="174.1">60</text><text y="89.6">80</text><text y="5.1">100</text></g>
<g class="yt" transform="translate(2438.6 513.3)"><text y="427.8">0</text><text y="343.2">20</text><text y="258.7">40</text><text y="174.1">60</text><text y="89.6">80</text><text y="5.1">100</text></g>
<g class="yt" transform="translate(3031.7 513.3)"><text y="427.8">0</text><text y="343.2">20</text><text y="258.7">40</text><text y="174.1">60</text><text y="89.6">80</text><text y="5.1">100</text></g>
<g class="yt" transform="translate(3624.8 513.3)"><text y="427.8">0</text><text y="343.2">20</text><text y="258.7">40</text><text y="174.1">60</text><text y="89.6">80</text><text y="5.1">100</text></g>
<g class="yt" transform="translate(4217.9 513.3)"><text y="427.8">0</text><text y="343.2">20</text><text y="258.7">40</text><text y="174.1">60</text><text y="89.6">80</text><text y="5.1">100</text></g>

<!-- axis labels -->
<text class="xl" x="330" y="487.3">Percentage</text><text class="xl" x="923.1" y="487.3">Percentage</text><text class="xl" x="1516.2" y="487.3">Percentage</text><text class="xl" x="2109.3" y="487.3">Percentage</text><text class="xl" x="2702.4" y="487.3">Percentage</text><text class="xl" x="3295.5" y="487.3">Percentage</text><text class="xl" x="3888.6" y="487.3">Percentage</text><text class="xl" x="4481.7" y="487.3">Percentage</text>
<text class="xl" x="330" y="979.3">Percentage</text><text class="xl" x="923.1" y="979.3">Percentage</text><text class="xl" x="1516.2" y="979.3">Percentage</text><text class="xl" x="2109.3" y="979.3">Percentage</text><text class="xl" x="2702.4" y="979.3">Percentage</text><text class="xl" x="3295.5" y="979.3">Percentage</text><text class="xl" x="3888.6" y="979.3">Percentage</text><text class="xl" x="4481.7" y="979.3">Percentage</text>

<text class="xl" transform="translate(29 232.65) rotate(-90)">Age (yrs)</text><text class="xl" transform="translate(622.1 232.65) rotate(-90)">Age (yrs)</text><text class="xl" transform="translate(1215.2 232.65) rotate(-90)">Age (yrs)</text><text class="xl" transform="translate(1808.3 232.65) rotate(-90)">Age (yrs)</text><text class="xl" transform="translate(2401.4 232.65) rotate(-90)">Age (yrs)</text><text class="xl" transform="translate(2994.5 232.65) rotate(-90)">Age (yrs)</text><text class="xl" transform="translate(3587.6 232.65) rotate(-90)">Age (yrs)</text><text class="xl" transform="translate(4180.7 232.65) rotate(-90)">Age (yrs)</text>
<text class="xl" transform="translate(29 724.65) rotate(-90)">Age (yrs)</text><text class="xl" transform="translate(622.1 724.65) rotate(-90)">Age (yrs)</text><text class="xl" transform="translate(1215.2 724.65) rotate(-90)">Age (yrs)</text><text class="xl" transform="translate(1808.3 724.65) rotate(-90)">Age (yrs)</text><text class="xl" transform="translate(2401.4 724.65) rotate(-90)">Age (yrs)</text><text class="xl" transform="translate(2994.5 724.65) rotate(-90)">Age (yrs)</text><text class="xl" transform="translate(3587.6 724.65) rotate(-90)">Age (yrs)</text><text class="xl" transform="translate(4180.7 724.65) rotate(-90)">Age (yrs)</text>

<!-- years -->
<text class="yr" x="96" y="53.1">1950</text><text class="yr" x="689.1" y="53.1">1960</text><text class="yr" x="1282.2" y="53.1">1970</text><text class="yr" x="1875.3" y="53.1">1980</text><text class="yr" x="2468.4" y="53.1">1990</text><text class="yr" x="3061.5" y="53.1">2000</text><text class="yr" x="3654.6" y="53.1">2010</text><text class="yr" x="4247.7" y="53.1">2020</text>
<text class="yr" x="96" y="545.1">1950</text><text class="yr" x="689.1" y="545.1">1960</text><text class="yr" x="1282.2" y="545.1">1970</text><text class="yr" x="1875.3" y="545.1">1980</text><text class="yr" x="2468.4" y="545.1">1990</text><text class="yr" x="3061.5" y="545.1">2000</text><text class="yr" x="3654.6" y="545.1">2010</text><text class="yr" x="4247.7" y="545.1">2020</text>

<!-- total pop -->
<text class="tp" x="499.5" y="46">Total Pop</text><text class="tp" x="503.3" y="73.5">50.5M</text>
<text class="tp" x="1092.6" y="46">Total Pop</text><text class="tp" x="1096.4" y="73.5">51.0M</text>
<text class="tp" x="1685.7" y="46">Total Pop</text><text class="tp" x="1689.5" y="73.5">53.3M</text>
<text class="tp" x="2278.8" y="46">Total Pop</text><text class="tp" x="2282.6" y="73.5">53.2M</text>
<text class="tp" x="2871.9" y="46">Total Pop</text><text class="tp" x="2875.7" y="73.5">53.6M</text>
<text class="tp" x="3465" y="46">Total Pop</text><text class="tp" x="3468.8" y="73.5">54.5M</text>
<text class="tp" x="4058.1" y="46">Total Pop</text><text class="tp" x="4061.9" y="73.5">55.9M</text>
<text class="tp" x="4651.2" y="46">Total Pop</text><text class="tp" x="4655" y="73.5">57.2M</text>
<text class="tp" x="499.5" y="538">Total Pop</text><text class="tp" x="503.3" y="565.5">50.6M</text>
<text class="tp" x="1092.6" y="538">Total Pop</text><text class="tp" x="1096.4" y="565.5">52.4M</text>
<text class="tp" x="1685.7" y="538">Total Pop</text><text class="tp" x="1689.5" y="565.5">55.6M</text>
<text class="tp" x="2278.8" y="538">Total Pop</text><text class="tp" x="2282.6" y="565.5">56.2M</text>
<text class="tp" x="2871.9" y="538">Total Pop</text><text class="tp" x="2875.7" y="565.5">57.1M</text>
<text class="tp" x="3465" y="538">Total Pop</text><text class="tp" x="3468.8" y="565.5">58.9M</text>
<text class="tp" x="4058.1" y="538">Total Pop</text><text class="tp" x="4061.9" y="565.5">63.4M</text>
<text class="tp" x="4651.2" y="538">Total Pop</text><text class="tp" x="4655" y="565.5">67.9M</text>

<!-- row labels -->
<text class="rl" transform="translate(4780 232.65) rotate(-90)">Simulation</text>
<text class="rl" transform="translate(4780 724.65) rotate(-90)">Reference</text>
</svg>
</body></html>
